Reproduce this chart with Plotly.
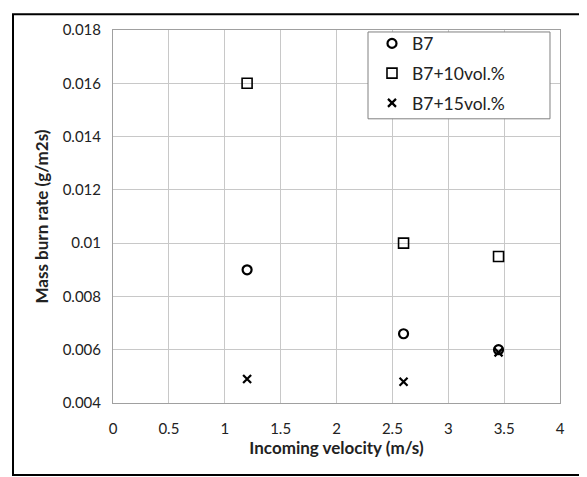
import plotly.graph_objects as go

velocity = [1.2, 2.6, 3.45]
b7 = [0.009, 0.0066, 0.006]
b7_10 = [0.016, 0.010, 0.0095]
b7_15 = [0.0049, 0.0048, 0.0059]
x_ticks = [0, 0.5, 1, 1.5, 2, 2.5, 3, 3.5, 4]
x_labels = ["0", "0.5", "1", "1.5", "2", "2.5", "3", "3.5", "4"]
y_ticks = [0.004, 0.006, 0.008, 0.01, 0.012, 0.014, 0.016, 0.018]
y_labels = ["0.004", "0.006", "0.008", "0.01", "0.012", "0.014", "0.016", "0.018"]

FONT = "Lato, Open Sans, sans-serif"

fig = go.Figure()
fig.add_trace(go.Scatter(x=velocity, y=b7, mode="markers", name="B7", legendgroup="a",
                         marker=dict(symbol="circle-open", size=9, color="black", line=dict(width=2.2, color="black"))))
fig.add_trace(go.Scatter(x=velocity, y=b7_10, mode="markers", name="B7+10vol.%", legendgroup="b",
                         marker=dict(symbol="square-open", size=10, color="black", line=dict(width=1.6, color="black"))))
fig.add_trace(go.Scatter(x=velocity, y=b7_15, mode="markers", name="B7+15vol.%", legendgroup="c",
                         marker=dict(symbol="x-thin-open", size=8, color="black", line=dict(width=2.2, color="black"))))

fig.update_layout(
    width=579, height=469,
    margin=dict(l=105, r=27, t=17, b=74),
    paper_bgcolor="white", plot_bgcolor="white",
    font=dict(family=FONT, size=15, color="#222"),
    xaxis=dict(range=[0, 4], tickvals=x_ticks, ticktext=x_labels, showgrid=True, gridcolor="#c8c8c8",
               gridwidth=1, zeroline=False, showline=True, linecolor="#a0a0a0", mirror=True, ticks="",
               ticklabelstandoff=12,
               title=dict(text="<b>Incoming velocity (m/s)</b>", font=dict(size=17, family=FONT), standoff=4)),
    yaxis=dict(range=[0.004, 0.018], tickvals=y_ticks, ticktext=y_labels, showgrid=True, gridcolor="#c8c8c8",
               gridwidth=1, zeroline=False, showline=True, linecolor="#a0a0a0", mirror=True, ticks="",
               ticklabelstandoff=8,
               title=dict(text="<b>Mass burn rate (g/m2s)</b>", font=dict(size=17, family=FONT), standoff=9)),
    legend=dict(x=0.5794, y=1.012, xanchor="left", yanchor="top", bgcolor="rgba(0,0,0,0)",
                borderwidth=0, font=dict(size=17.5, family=FONT),
                itemwidth=30, traceorder="grouped", tracegroupgap=4),
    shapes=[
        dict(type="rect", xref="paper", yref="paper", x0=-0.2237, x1=1.0515, y0=-0.1931, y1=1.0423,
             line=dict(color="black", width=2), layer="below"),
        dict(type="rect", xref="paper", yref="paper", x0=0.5705, x1=0.9776, y0=0.7619, y1=0.9947,
             line=dict(color="#808080", width=1), fillcolor="white", layer="above"),
    ],
    showlegend=True,
)

fig.write_html("out.html")
